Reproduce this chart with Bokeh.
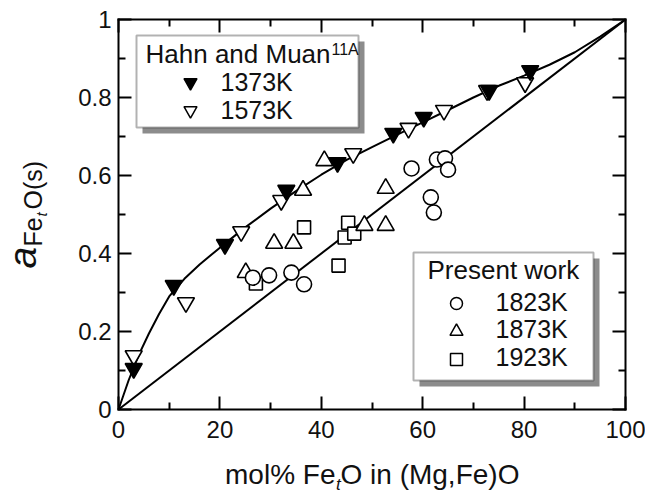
import math
from bokeh.plotting import figure
from bokeh.models import Range1d, FixedTicker, LinearAxis, Label, BoxAnnotation
from bokeh.embed import file_html
from bokeh.resources import INLINE

# ---------------- data ----------------
hm1373_x = [3.0, 10.9, 21.0, 33.1, 43.2, 54.2, 60.2, 73.1, 81.2]
hm1373_y = [0.105, 0.318, 0.423, 0.562, 0.633, 0.708, 0.749, 0.818, 0.869]

hm1573_x = [3.0, 13.3, 24.2, 32.1, 46.3, 57.2, 64.2, 72.7, 80.2]
hm1573_y = [0.138, 0.274, 0.456, 0.536, 0.656, 0.721, 0.767, 0.818, 0.838]

pw1823_x = [26.5, 29.7, 34.1, 36.6, 57.8, 62.8, 64.4, 65.0, 61.6, 62.2]
pw1823_y = [0.338, 0.344, 0.351, 0.321, 0.618, 0.641, 0.644, 0.615, 0.544, 0.505]

pw1873_x = [25.1, 30.7, 34.5, 36.4, 40.6, 48.5, 52.7, 52.7]
pw1873_y = [0.351, 0.426, 0.426, 0.562, 0.638, 0.472, 0.567, 0.472]

pw1923_x = [27.1, 36.6, 43.4, 44.6, 45.3, 46.5]
pw1923_y = [0.323, 0.467, 0.369, 0.441, 0.479, 0.451]

# fitted curve through Hahn & Muan data
curve_x = [0, 2, 4, 6, 8, 10, 13, 16, 20, 25, 30, 35, 40, 45, 50, 55, 60,
           65, 70, 75, 80, 85, 90, 95, 100]
curve_y = [0, 0.075, 0.14, 0.195, 0.245, 0.29, 0.335, 0.372, 0.415, 0.467,
           0.515, 0.56, 0.602, 0.64, 0.673, 0.705, 0.736, 0.768, 0.80, 0.83,
           0.856, 0.884, 0.916, 0.956, 1.0]

# ideal (Raoultian) line
ideal_x = [0, 100]
ideal_y = [0, 1]

x_ticks = [0, 20, 40, 60, 80, 100]
x_minor = [10, 30, 50, 70, 90]
x_tick_labels = ["0", "20", "40", "60", "80", "100"]
y_ticks = [0, 0.2, 0.4, 0.6, 0.8, 1.0]
y_minor = [0.1, 0.3, 0.5, 0.7, 0.9]
y_tick_labels = ["0", "0.2", "0.4", "0.6", "0.8", "1"]

legend1_title = "Hahn and Muan"
legend1_ref = "11A"
legend1_labels = ["1373K", "1573K"]
legend2_title = "Present work"
legend2_labels = ["1823K", "1873K", "1923K"]

# ---------------- layout (canvas pixels of the axes box) ----------------
FL, FR, FT, FB = 118, 625, 19, 409
W, H = 645, 493
FONT = "Liberation Sans"
BASE_K = 0.38   # Label baseline correction (fraction of font size)


def px2x(px):
    return (px - FL) / (FR - FL) * 100.0


def px2y(py):
    return (FB - py) / (FB - FT) * 1.0


# the frame covers the whole canvas; the axes are pinned at the data box edges
p = figure(width=W, height=H, title=None,
           x_range=Range1d(px2x(0), px2x(W)), y_range=Range1d(px2y(H), px2y(0)),
           output_backend="svg", toolbar_location=None, min_border=0)
p.xgrid.visible = False
p.ygrid.visible = False
p.outline_line_color = None
p.background_fill_color = "white"
p.border_fill_color = "white"


def style_axis(ax, ticks, minor, labels, bounds, loc, show_labels, standoff):
    ax.ticker = FixedTicker(ticks=ticks, minor_ticks=minor)
    ax.bounds = bounds
    ax.fixed_location = loc
    ax.axis_line_width = 2
    ax.axis_line_color = "black"
    ax.axis_line_cap = "square"
    ax.major_tick_in = 13
    ax.major_tick_out = 0
    ax.minor_tick_in = 7
    ax.minor_tick_out = 0
    ax.major_tick_line_width = 2
    ax.minor_tick_line_width = 2
    ax.major_tick_line_color = "black"
    ax.minor_tick_line_color = "black"
    if show_labels:
        ax.major_label_overrides = dict(zip(ticks, labels))
        ax.major_label_text_font = FONT
        ax.major_label_text_font_size = "24px"
        ax.major_label_text_color = "#111111"
        ax.major_label_standoff = standoff
    else:
        ax.major_label_text_color = None
        ax.major_label_standoff = 0


style_axis(p.xaxis[0], x_ticks, x_minor, x_tick_labels, (0, 100), 0, True, 11)
style_axis(p.yaxis[0], y_ticks, y_minor, y_tick_labels, (0, 1), 0, True, 7)
top_ax = LinearAxis()
style_axis(top_ax, x_ticks, x_minor, x_tick_labels, (0, 100), 1, False, 0)
p.add_layout(top_ax, "above")
right_ax = LinearAxis()
style_axis(right_ax, y_ticks, y_minor, y_tick_labels, (0, 1), 100, False, 0)
p.add_layout(right_ax, "right")

# ---------------- lines ----------------
p.line(ideal_x, ideal_y, line_color="black", line_width=2)
p.line(curve_x, curve_y, line_color="black", line_width=2)

# ---------------- markers ----------------
mk = dict(line_color="black", line_width=1.6)
p.scatter(hm1573_x, hm1573_y, marker="inverted_triangle", size=17, fill_color="white", **mk)
p.scatter(hm1373_x, hm1373_y, marker="inverted_triangle", size=17, fill_color="black", **mk)
p.scatter(pw1923_x, pw1923_y, marker="square", size=13, fill_color="white", **mk)
p.scatter(pw1873_x, pw1873_y, marker="triangle", size=17, fill_color="white", **mk)
p.scatter(pw1823_x, pw1823_y, marker="circle", size=15, fill_color="white", **mk)

# ---------------- legends (boxes with drop shadow) ----------------
SH = 6


def legend_box(l, t, r, b):
    p.add_layout(BoxAnnotation(left=px2x(l + SH), right=px2x(r + SH),
                               top=px2y(t + SH), bottom=px2y(b + SH),
                               fill_color="#8c8c8c", fill_alpha=1.0,
                               line_color=None))
    p.add_layout(BoxAnnotation(left=px2x(l), right=px2x(r), top=px2y(t),
                               bottom=px2y(b), fill_color="white", fill_alpha=1.0,
                               line_color="black", line_width=2))


def text(px, py, s, size=25, style="normal", align="left", rotated=False):
    # (px, py) is the wanted alphabetic-baseline start point, in canvas pixels
    if rotated:
        px = px - BASE_K * size
    else:
        py = py - BASE_K * size
    p.add_layout(Label(x=px2x(px), y=px2y(py), text=s, text_font=FONT,
                       text_font_size=f"{size}px", text_font_style=style,
                       text_align=align, text_baseline="alphabetic",
                       text_color="#111111",
                       angle=math.pi / 2 if rotated else 0.0))


# legend 1
legend_box(136, 35, 358, 127)
text(145, 63, legend1_title, size=26)
text(331, 55, legend1_ref, size=16)
key1 = [("inverted_triangle", "black", 13, 82), ("inverted_triangle", "white", 13, 110)]
for (m, fc, sz, cy), lab, base in zip(key1, legend1_labels, [91, 119]):
    p.scatter([px2x(190)], [px2y(cy)], marker=m, size=sz, fill_color=fc,
              line_color="black", line_width=1.5, level="overlay")
    text(220, base, lab)

# legend 2
legend_box(413, 252, 593, 380)
text(427, 279, legend2_title, size=26)
key2 = [("circle", 12, 303), ("triangle", 13, 331), ("square", 12, 359)]
for (m, sz, cy), lab, base in zip(key2, legend2_labels, [311, 338, 366]):
    p.scatter([px2x(456)], [px2y(cy)], marker=m, size=sz, fill_color="white",
              line_color="black", line_width=1.5, level="overlay")
    text(495, base, lab)

# ---------------- axis titles ----------------
# x title: "mol% Fe_tO in (Mg,Fe)O", centred under the axes box
XT = 335
text(XT, 485, "mol% Fe", size=28, align="right")
text(XT + 0.5, 490, "t", size=17, style="italic")
text(XT + 5, 485, "O in (Mg,Fe)O", size=28)

# y title: a_{Fe_tO(s)} rotated
text(37, 268, "a", size=39, style="italic", rotated=True)
text(42, 246, "Fe", size=25, rotated=True)
text(47, 216, "t", size=15, style="italic", rotated=True)
text(42, 209, "O(s)", size=25, rotated=True)

open("out.html", "w").write(file_html(p, INLINE))
